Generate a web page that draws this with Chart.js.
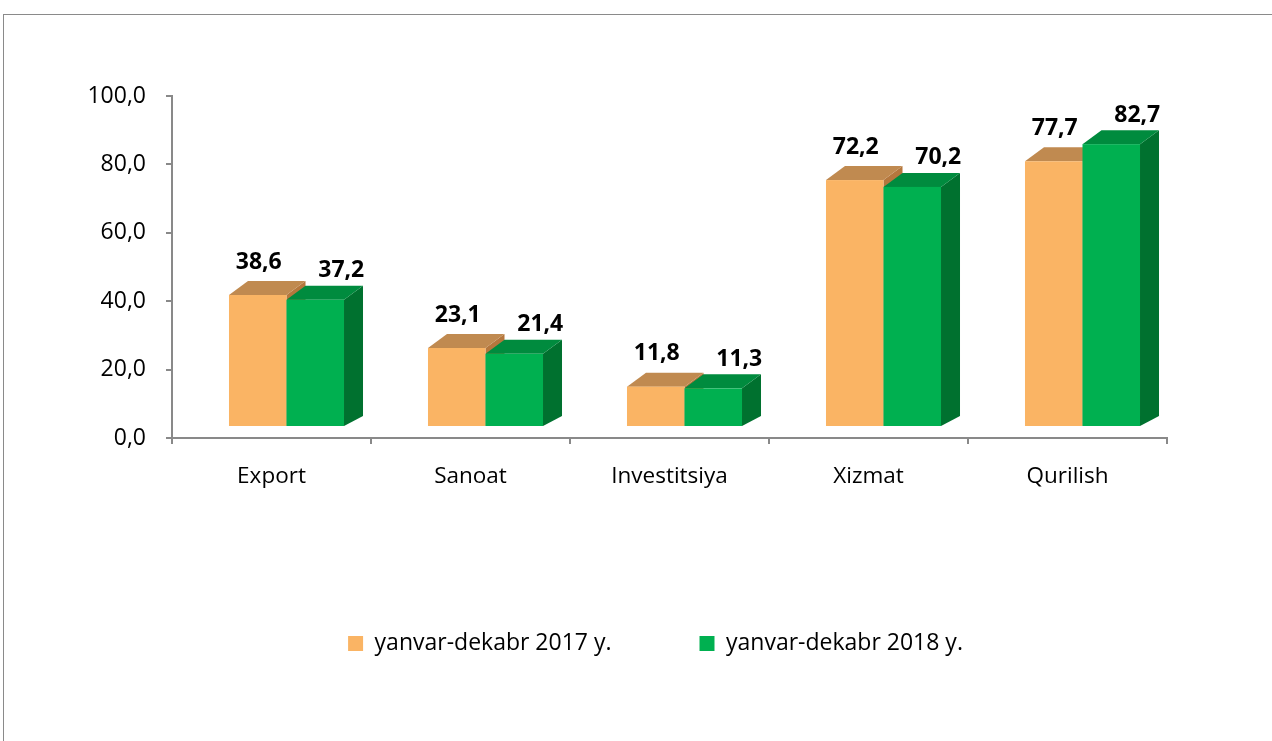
<!DOCTYPE html>
<html>
<head>
<meta charset="utf-8">
<script src="https://cdn.jsdelivr.net/npm/chart.js@4.4.1/dist/chart.umd.min.js"></script>
<style>
  html, body { margin: 0; padding: 0; background: #fff; overflow: hidden; }
  #frame { position: absolute; left: 3px; top: 14px; width: 1300px; height: 800px; border: 1px solid #8a8a8a; }
  #wrap { position: absolute; left: 0; top: 0; width: 1272px; height: 741px; }
</style>
</head>
<body>
<div id="frame"></div>
<div id="wrap"><canvas id="chart"></canvas></div>
<script>
// data
const categories = ['Export', 'Sanoat', 'Investitsiya', 'Xizmat', 'Qurilish'];
const values2017 = [38.6, 23.1, 11.8, 72.2, 77.7];
const values2018 = [37.2, 21.4, 11.3, 70.2, 82.7];
const seriesLabels = ['yanvar-dekabr 2017 y.', 'yanvar-dekabr 2018 y.'];
const yMin = 0, yMax = 100, yStep = 20;

Chart.defaults.font.family = "'Open Sans', sans-serif";
Chart.defaults.color = '#000';

const axisColor = '#898989';

// colours of the faces for each series + where its value label sits
const faces = [
  { front: '#FAB464', top: '#C08A50', side: '#B5773D', labelDx: 1, labelDy: 33 },
  { front: '#00B050', top: '#008B3E', side: '#00712F', labelDx: 26, labelDy: 29 }
];

// fake 3d: front face pushed right/up, depth goes back to the upper right
const SHIFT_X = 15, SHIFT_Y = 11;
const DEPTH_X = 19, DEPTH_TOP = 14, DEPTH_BOTTOM = 10;
const LEGEND_SHIFT = 72;

function fmt(v) {
  return Number(v).toFixed(1).replace('.', ',');
}

function poly(ctx, color, pts) {
  ctx.beginPath();
  ctx.moveTo(pts[0][0], pts[0][1]);
  for (let i = 1; i < pts.length; i++) ctx.lineTo(pts[i][0], pts[i][1]);
  ctx.closePath();
  ctx.fillStyle = color;
  ctx.fill();
}

const bars3d = {
  id: 'bars3d',
  afterLayout(chart) {
    // legend sits a bit right of the plot centre in the original
    chart.legend.left += LEGEND_SHIFT;
    chart.legend.right += LEGEND_SHIFT;
  },
  beforeDatasetsDraw(chart) {
    const ctx = chart.ctx;
    ctx.save();
    chart.data.datasets.forEach((ds, i) => {
      const look = faces[i];
      chart.getDatasetMeta(i).data.forEach(bar => {
        const l = bar.x - bar.width / 2 + SHIFT_X;
        const r = l + bar.width;
        const t = bar.y - SHIFT_Y;
        const b = bar.base - SHIFT_Y;
        poly(ctx, look.side, [[r, t], [r + DEPTH_X, t - DEPTH_TOP], [r + DEPTH_X, b - DEPTH_BOTTOM], [r, b]]);
        poly(ctx, look.top, [[l, t], [l + DEPTH_X, t - DEPTH_TOP], [r + DEPTH_X, t - DEPTH_TOP], [r, t]]);
        ctx.fillStyle = look.front;
        ctx.fillRect(l, t, bar.width, b - t);
      });
    });

    // value labels on top
    ctx.font = "bold 23px 'Open Sans', sans-serif";
    ctx.fillStyle = '#000';
    ctx.textAlign = 'center';
    ctx.textBaseline = 'middle';
    chart.data.datasets.forEach((ds, i) => {
      const look = faces[i];
      chart.getDatasetMeta(i).data.forEach((bar, j) => {
        const cx = bar.x + SHIFT_X + look.labelDx;
        const cy = bar.y - SHIFT_Y - look.labelDy;
        ctx.fillText(fmt(ds.data[j]), cx, cy);
      });
    });
    ctx.restore();
    return false; // skip the flat default bars
  }
};

new Chart(document.getElementById('chart'), {
  type: 'bar',
  data: {
    labels: categories,
    datasets: [
      { label: seriesLabels[0], data: values2017, backgroundColor: faces[0].front, borderWidth: 0 },
      { label: seriesLabels[1], data: values2018, backgroundColor: faces[1].front, borderWidth: 0 }
    ]
  },
  options: {
    responsive: true,
    maintainAspectRatio: false,
    animation: false,
    layout: { padding: { top: 96, right: 105, bottom: 76, left: 0 } },
    datasets: { bar: { categoryPercentage: 0.578, barPercentage: 1 } },
    plugins: {
      legend: {
        position: 'bottom',
        labels: { boxWidth: 15, boxHeight: 15, padding: 88, color: '#000', font: { size: 23 } }
      },
      tooltip: { enabled: false }
    },
    scales: {
      x: {
        grid: { drawOnChartArea: false, tickLength: 6, color: axisColor, lineWidth: 2 },
        border: { color: axisColor, width: 2 },
        ticks: { color: '#000', font: { size: 22.5 }, padding: 19 },
        afterFit(scale) { scale.height = 106; }
      },
      y: {
        min: yMin,
        max: yMax,
        grid: { drawOnChartArea: false, tickLength: 6, color: axisColor, lineWidth: 2 },
        border: { color: axisColor, width: 2 },
        ticks: { stepSize: yStep, padding: 20, color: '#000', font: { size: 23 }, callback: v => fmt(v) },
        afterFit(scale) { scale.width = 172; }
      }
    }
  },
  plugins: [bars3d]
});
</script>
</body>
</html>
